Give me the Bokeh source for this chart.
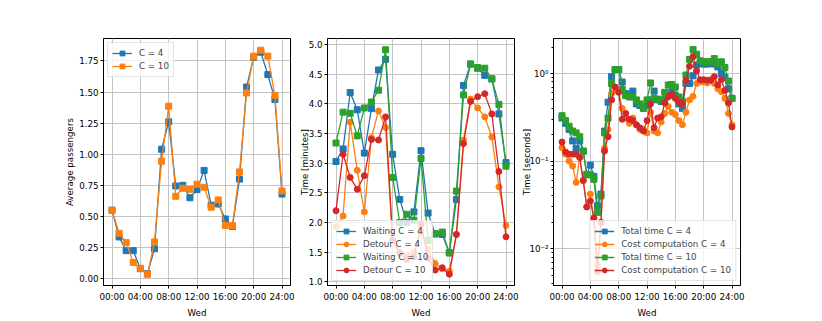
from bokeh.plotting import figure
from bokeh.layouts import row
from bokeh.models import (Range1d, FixedTicker, PrintfTickFormatter, LogTicker,
                          CustomJSTickFormatter)
from bokeh.embed import file_html
from bokeh.resources import INLINE

# ---------------- data ----------------
hours = [0, 1, 2, 3, 4, 5, 6, 7, 8, 9, 10, 11, 12, 13, 14, 15, 16, 17, 18, 19, 20, 21, 22, 23, 24]
half_hours = [0, 0.5, 1, 1.5, 2, 2.5, 3, 3.5, 4, 4.5, 5, 5.5, 6, 6.5, 7, 7.5, 8, 8.5, 9, 9.5,
              10, 10.5, 11, 11.5, 12, 12.5, 13, 13.5, 14, 14.5, 15, 15.5, 16, 16.5, 17, 17.5,
              18, 18.5, 19, 19.5, 20, 20.5, 21, 21.5, 22, 22.5, 23, 23.5, 24]
tick_hours = [0, 4, 8, 12, 16, 20, 24]
tick_labels = ["00:00", "04:00", "08:00", "12:00", "16:00", "20:00", "24:00"]

# panel 1: average passengers
pass_c4 = [0.55, 0.335, 0.225, 0.225, 0.08, 0.04, 0.24, 1.04, 1.26, 0.745, 0.75, 0.65, 0.715,
           0.87, 0.59, 0.60, 0.48, 0.42, 0.80, 1.54, 1.78, 1.82, 1.64, 1.44, 0.68]
pass_c10 = [0.55, 0.365, 0.29, 0.13, 0.083, 0.035, 0.295, 0.944, 1.386, 0.662, 0.727, 0.718,
            0.759, 0.735, 0.574, 0.633, 0.426, 0.426, 0.858, 1.493, 1.788, 1.836, 1.788, 1.472, 0.705]

# panel 2: times in minutes
wait_c4 = [3.03, 3.24, 4.19, 3.90, 3.17, 3.92, 4.57, 4.75, 3.15, 2.39, 2.00, 2.18, 3.21, 2.16,
           1.81, 1.80, 1.49, 2.39, 4.31, 4.67, 4.60, 4.48, 4.42, 3.83, 3.01]
detour_c4 = [1.93, 2.11, 3.69, 2.88, 2.18, 3.43, 3.88, 3.60, 1.70, 1.50, 1.45, 1.50, 1.85, 1.55,
             1.31, 1.22, 1.18, 1.80, 3.39, 4.08, 3.93, 3.78, 3.44, 2.60, 1.95]
wait_c10 = [3.34, 3.86, 3.84, 3.46, 3.93, 4.03, 4.23, 4.91, 2.76, 2.00, 2.14, 2.04, 3.08, 1.70,
            1.81, 1.84, 1.49, 2.53, 4.15, 4.67, 4.61, 4.60, 4.42, 3.99, 2.95]
detour_c10 = [2.20, 3.15, 2.76, 2.56, 2.79, 3.40, 3.39, 3.78, 1.70, 1.48, 1.38, 1.42, 1.97, 1.40,
              1.20, 1.24, 1.13, 1.80, 3.33, 4.04, 4.12, 4.17, 3.83, 2.86, 1.76]

# panel 3: times in seconds (half-hourly)
total_c4 = [0.31, 0.27, 0.23, 0.17, 0.14, 0.17, 0.13, 0.07, 0.09, 0.067, 0.031, 0.042, 0.22, 0.47,
            0.92, 1.11, 1.11, 0.80, 0.59, 0.56, 0.63, 0.45, 0.43, 0.40, 0.43, 0.50, 0.63, 0.50,
            0.48, 0.50, 0.56, 0.62, 0.56, 0.45, 0.40, 0.77, 0.77, 0.94, 1.25, 1.30, 1.28, 1.28,
            1.30, 1.28, 1.19, 1.00, 0.90, 0.67, 0.52]
cost_c4 = [0.142, 0.12, 0.10, 0.088, 0.057, 0.11, 0.06, 0.03, 0.042, 0.022, 0.0065, 0.02, 0.14,
           0.23, 0.59, 0.70, 0.62, 0.40, 0.31, 0.27, 0.31, 0.26, 0.23, 0.23, 0.21, 0.36, 0.22,
           0.21, 0.28, 0.35, 0.42, 0.36, 0.34, 0.29, 0.26, 0.36, 0.50, 0.55, 0.77, 0.80, 0.80,
           0.78, 0.85, 0.77, 0.67, 0.62, 0.52, 0.35, 0.26]
total_c10 = [0.33, 0.29, 0.25, 0.22, 0.21, 0.19, 0.13, 0.07, 0.07, 0.062, 0.026, 0.04, 0.21, 0.31,
             0.77, 1.11, 1.11, 0.66, 0.56, 0.54, 0.54, 0.50, 0.45, 0.41, 0.50, 0.78, 0.52, 0.51,
             0.50, 0.61, 0.74, 0.75, 0.70, 0.54, 0.48, 0.96, 1.45, 1.88, 1.66, 1.40, 1.36, 1.36,
             1.36, 1.48, 1.30, 1.36, 1.17, 0.82, 0.52]
cost_c10 = [0.165, 0.127, 0.12, 0.12, 0.12, 0.11, 0.06, 0.030, 0.035, 0.0225, 0.0055, 0.020, 0.13,
            0.19, 0.50, 0.70, 0.61, 0.30, 0.35, 0.30, 0.29, 0.26, 0.24, 0.22, 0.29, 0.45, 0.24,
            0.31, 0.32, 0.46, 0.54, 0.58, 0.52, 0.47, 0.45, 0.84, 1.21, 1.55, 1.07, 0.85, 0.85,
            0.84, 0.84, 0.92, 0.74, 0.85, 0.64, 0.46, 0.245]

BLUE, ORANGE, GREEN, RED = "#1f77b4", "#ff7f0e", "#2ca02c", "#d62728"
FONT = "DejaVu Sans"
FS = "8.7px"


def make_fig(y_range, left, right, log=False):
    p = figure(frame_width=187, frame_height=247,
               x_range=Range1d(-1.2, 25.2), y_range=y_range,
               y_axis_type="log" if log else "linear",
               output_backend="svg", toolbar_location=None,
               min_border_left=left, min_border_right=right,
               min_border_top=38, min_border_bottom=30,
               background_fill_color="white", border_fill_color="white")
    p.outline_line_color = "black"
    p.outline_line_width = 1
    p.grid.grid_line_color = "#c4c4c4"
    p.grid.grid_line_width = 1
    p.xaxis.ticker = FixedTicker(ticks=tick_hours)
    p.xaxis.major_label_overrides = dict(zip(tick_hours, tick_labels))
    p.xaxis.axis_label = "Wed"
    for ax in p.axis:
        ax.axis_line_color = "black"
        ax.major_tick_line_color = "black"
        ax.major_tick_out = 3
        ax.major_tick_in = 0
        ax.minor_tick_in = 0
        ax.minor_tick_out = 2
        ax.major_label_text_font = FONT
        ax.major_label_text_font_size = FS
        ax.major_label_text_color = "black"
        ax.axis_label_text_font = FONT
        ax.axis_label_text_font_size = FS
        ax.axis_label_text_font_style = "normal"
        ax.axis_label_text_color = "black"
        ax.axis_label_standoff = 3
        ax.major_label_standoff = 3
    p.yaxis.major_label_standoff = 2
    p.yaxis.axis_label_standoff = 1
    p.xaxis.minor_tick_line_color = None
    if not log:
        p.yaxis.minor_tick_line_color = None
    return p


def series(p, x, y, color, marker, label):
    p.line(x, y, line_color=color, line_width=1.3, legend_label=label)
    p.scatter(x, y, marker=marker, size=6,
              fill_color=color, line_color=color, legend_label=label)


def style_legend(p, loc):
    lg = p.legend[0]
    lg.location = loc
    lg.margin = 4
    lg.padding = 4
    lg.spacing = 1
    lg.glyph_width = 20
    lg.glyph_height = 12
    lg.label_height = 12
    lg.label_standoff = 7
    lg.label_text_font = FONT
    lg.label_text_font_size = FS
    lg.border_line_color = "#cccccc"
    lg.border_line_width = 1
    lg.background_fill_alpha = 0.8


# panel 1
p1 = make_fig(Range1d(-0.055, 1.93), 103, 5)
p1.yaxis.ticker = FixedTicker(ticks=[0, 0.25, 0.5, 0.75, 1.0, 1.25, 1.5, 1.75])
p1.yaxis.formatter = PrintfTickFormatter(format="%.2f")
p1.yaxis.axis_label = "Average passengers"
series(p1, hours, pass_c4, BLUE, "square", "C = 4")
series(p1, hours, pass_c10, ORANGE, "square", "C = 10")
style_legend(p1, "top_left")

# panel 2
p2 = make_fig(Range1d(0.94, 5.10), 32, 5)
p2.yaxis.ticker = FixedTicker(ticks=[1.0, 1.5, 2.0, 2.5, 3.0, 3.5, 4.0, 4.5, 5.0])
p2.yaxis.formatter = PrintfTickFormatter(format="%.1f")
p2.yaxis.axis_label = "Time [minutes]"
p2.yaxis.axis_label_standoff = -4
series(p2, hours, wait_c4, BLUE, "square", "Waiting C = 4")
series(p2, hours, detour_c4, ORANGE, "circle", "Detour C = 4")
series(p2, hours, wait_c10, GREEN, "square", "Waiting C = 10")
series(p2, hours, detour_c10, RED, "circle", "Detour C = 10")
style_legend(p2, "bottom_left")

# panel 3
p3 = make_fig(Range1d(0.0038, 2.51), 32, 10, log=True)
p3.yaxis.ticker = LogTicker(num_minor_ticks=10)
p3.yaxis.formatter = CustomJSTickFormatter(code="""
const sup = {"-": "\u207b", "0": "\u2070", "1": "\u00b9", "2": "\u00b2", "3": "\u00b3",
             "4": "\u2074", "5": "\u2075", "6": "\u2076", "7": "\u2077", "8": "\u2078", "9": "\u2079"};
const e = Math.round(Math.log10(tick));
return "10" + String(e).split("").map(c => sup[c]).join("");
""")
p3.yaxis.axis_label = "Time [seconds]"
p3.yaxis.axis_label_standoff = -6
series(p3, half_hours, total_c4, BLUE, "square", "Total time C = 4")
series(p3, half_hours, cost_c4, ORANGE, "circle", "Cost computation C = 4")
series(p3, half_hours, total_c10, GREEN, "square", "Total time C = 10")
series(p3, half_hours, cost_c10, RED, "circle", "Cost computation C = 10")
style_legend(p3, "bottom_right")

layout = row(p1, p2, p3)
open("out.html", "w").write(file_html(layout, INLINE))
